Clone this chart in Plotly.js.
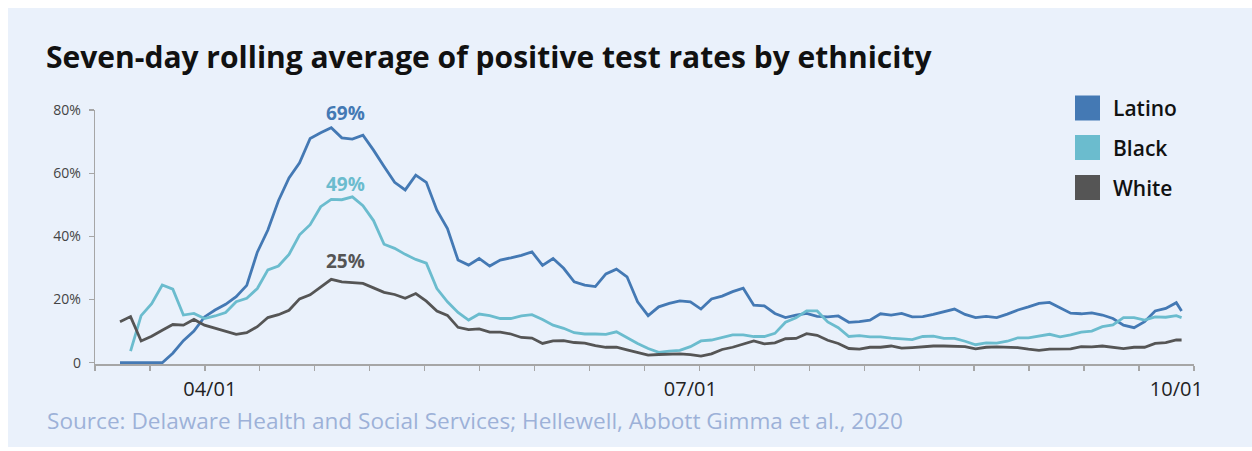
<!DOCTYPE html>
<html>
<head>
<meta charset="utf-8">
<script src="https://cdn.plot.ly/plotly-3.0.1.min.js"></script>
<style>
  html, body { margin: 0; padding: 0; background: #ffffff; }
  #chart { position: absolute; left: 8px; top: 8px; width: 1244px; height: 439px; }
</style>
</head>
<body>
<div id="chart"></div>
<script>
// ---- data ----
const dates = [
  '2020-03-15','2020-03-17','2020-03-19','2020-03-21','2020-03-23','2020-03-25','2020-03-27','2020-03-29','2020-03-31','2020-04-02',
  '2020-04-04','2020-04-06','2020-04-08','2020-04-10','2020-04-12','2020-04-14','2020-04-16','2020-04-18','2020-04-20','2020-04-22',
  '2020-04-24','2020-04-26','2020-04-28','2020-04-30','2020-05-02','2020-05-04','2020-05-06','2020-05-08','2020-05-10','2020-05-12',
  '2020-05-14','2020-05-16','2020-05-18','2020-05-20','2020-05-22','2020-05-24','2020-05-26','2020-05-28','2020-05-30','2020-06-01',
  '2020-06-03','2020-06-05','2020-06-07','2020-06-09','2020-06-11','2020-06-13','2020-06-15','2020-06-17','2020-06-19','2020-06-21',
  '2020-06-23','2020-06-25','2020-06-27','2020-06-29','2020-07-01','2020-07-03','2020-07-05','2020-07-07','2020-07-09','2020-07-11',
  '2020-07-13','2020-07-15','2020-07-17','2020-07-19','2020-07-21','2020-07-23','2020-07-25','2020-07-27','2020-07-29','2020-07-31',
  '2020-08-02','2020-08-04','2020-08-06','2020-08-08','2020-08-10','2020-08-12','2020-08-14','2020-08-16','2020-08-18','2020-08-20',
  '2020-08-22','2020-08-24','2020-08-26','2020-08-28','2020-08-30','2020-09-01','2020-09-03','2020-09-05','2020-09-07','2020-09-09',
  '2020-09-11','2020-09-13','2020-09-15','2020-09-17','2020-09-19','2020-09-21','2020-09-23','2020-09-25','2020-09-27','2020-09-29',
  '2020-10-01','2020-10-02'
];

const latino = [
  0,0,0,0,0,3,7,10,14.5,16.7,
  18.5,20.9,24.5,35,42,51.3,58.5,63.3,71,72.8,
  74.4,71.2,70.8,72,67.3,62.1,57.1,54.7,59.4,57.1,
  48.3,42.5,32.5,30.9,33,30.6,32.5,33.2,34,35.1,
  30.8,33,29.9,25.6,24.6,24.1,28.1,29.6,27.2,19.3,
  14.9,17.7,18.8,19.6,19.3,17,20.2,21.1,22.5,23.6,
  18.2,18,15.6,14.3,15.1,15.6,14.7,14.5,14.8,12.8,
  13,13.5,15.5,15.1,15.6,14.5,14.6,15.3,16.2,17,
  15.3,14.3,14.7,14.3,15.4,16.7,17.7,18.8,19.1,17.5,
  15.7,15.5,15.8,15.1,14,11.9,11.1,13,16.4,17.2,
  19,16.4
];

const black = [
  null,3.7,14.9,18.7,24.6,23.3,15.1,15.6,14,14.8,
  15.9,19.3,20.4,23.5,29.4,30.6,34.3,40.5,43.7,49.4,
  51.7,51.6,52.5,49.7,45,37.5,36.2,34.3,32.7,31.5,
  23.5,19.3,15.9,13.5,15.4,14.9,14,14,14.8,15.2,
  13.7,11.9,10.9,9.5,9.1,9.1,9,9.8,7.9,6.1,
  4.5,3.3,3.7,3.9,5.1,6.9,7.2,7.9,8.8,8.8,
  8.3,8.3,9.3,12.8,14.2,16.4,16.4,12.9,11.1,8.3,
  8.6,8.2,8.2,7.8,7.6,7.3,8.3,8.4,7.7,7.7,
  6.8,5.7,6.3,6.2,6.8,7.9,7.9,8.4,9,8.2,
  8.8,9.7,10,11.4,12,14.3,14.3,13.5,14.5,14.4,
  14.9,14.3
];

const white = [
  13,14.6,6.9,8.4,10.3,12.1,11.9,13.7,11.9,11,
  10,9,9.5,11.4,14.3,15.2,16.6,20.2,21.5,24,
  26.4,25.6,25.3,25.1,23.7,22.3,21.6,20.4,21.9,19.5,
  16.4,15,11.2,10.5,10.7,9.7,9.7,9.1,8,7.8,
  6.1,6.9,7,6.4,6.2,5.4,4.9,4.9,4.1,3.3,
  2.4,2.6,2.8,2.8,2.6,2.1,2.8,4.2,4.9,6,
  6.9,6,6.3,7.6,7.7,9.2,8.7,7.1,6.1,4.5,
  4.3,4.9,4.9,5.3,4.6,4.8,5.1,5.3,5.3,5.3,
  5.1,4.4,4.9,5,5,4.8,4.3,3.9,4.3,4.3,
  4.4,5.1,5,5.3,4.9,4.5,4.9,4.9,6.1,6.4,
  7.2,7.2
];

const seriesNames = ['Latino', 'Black', 'White'];
const peakLabels = ['69%', '49%', '25%'];
const xTickVals = ['2020-04-01', '2020-07-01', '2020-10-01'];
const xTickText = ['04/01', '07/01', '10/01'];
const yTickVals = [0, 20, 40, 60, 80];
const yTickText = ['0', '20%', '40%', '60%', '80%'];

// ---- styling ----
const colors = ['#4479B4', '#6BBCCE', '#555555'];
const labelColors = ['#4479B4', '#6BBCCE', '#555555'];
const panel = '#EAF1FB';
const axisGrey = '#A6A6A6';
const FONT = 'Open Sans, sans-serif';

// page-pixel helpers (plot area spans page x 95..1194, y 110..364)
const PL = 95, PR = 1194, PT = 110, PB = 364;
const PX = p => (p - PL) / (PR - PL);
const PY = p => (PB - p) / (PB - PT);

const DAY = 86400000;
const t0 = Date.parse('2020-03-15T00:00:00Z');
const pxPerDay = 5.282;
const rStart = t0 - (120 - PL) / pxPerDay * DAY;
const tickStep = ((PR - PL) / 20) / pxPerDay * DAY;
const rEnd = rStart + 20 * tickStep + 0.02 * DAY;

const ySeries = [latino, black, white];
const traces = ySeries.map((ys, i) => ({
  type: 'scatter', mode: 'lines', name: seriesNames[i],
  x: dates, y: ys, connectgaps: false,
  line: { color: colors[i], width: 2.8, shape: 'linear' },
  hoverinfo: 'skip', showlegend: false
}));

const shapes = [];
const annotations = [];
const legendCenters = [108, 147.5, 187.5];
seriesNames.forEach((n, i) => {
  const c = legendCenters[i];
  shapes.push({
    type: 'rect', xref: 'paper', yref: 'paper',
    x0: PX(1075), x1: PX(1100), y0: PY(c + 12.5), y1: PY(c - 12.5),
    fillcolor: colors[i], line: { width: 0 }
  });
  annotations.push({
    xref: 'paper', yref: 'paper', x: PX(1111), y: PY(c),
    xanchor: 'left', yanchor: 'middle', showarrow: false, text: n,
    font: { family: FONT, size: 21, weight: 600, color: '#111111' }
  });
});

const peakY = [113, 184, 261];
peakLabels.forEach((t, i) => {
  annotations.push({
    xref: 'paper', yref: 'paper', x: PX(345), y: PY(peakY[i]),
    xanchor: 'center', yanchor: 'middle', showarrow: false, text: t,
    font: { family: FONT, size: 19, weight: 700, color: labelColors[i] }
  });
});

annotations.push({
  xref: 'paper', yref: 'paper', x: PX(45), y: PY(420),
  xanchor: 'left', yanchor: 'middle', showarrow: false,
  text: 'Source: Delaware Health and Social Services; Hellewell, Abbott Gimma et al., 2020',
  font: { family: FONT, size: 22.6, color: '#9DB1D8' }
});

const layout = {
  width: 1244, height: 439,
  margin: { l: PL - 8, r: 1252 - PR, t: PT - 8, b: 447 - PB, pad: 0 },
  paper_bgcolor: panel, plot_bgcolor: panel,
  showlegend: false,
  title: {
    text: 'Seven-day rolling average of positive test rates by ethnicity',
    xref: 'container', yref: 'container',
    x: 38 / 1244, xanchor: 'left', y: 1 - 49 / 439, yanchor: 'middle',
    font: { family: FONT, size: 30, weight: 700, color: '#111111' }
  },
  xaxis: {
    type: 'date', range: [rStart, rEnd], fixedrange: true,
    showgrid: false, zeroline: false,
    showline: true, linecolor: axisGrey, linewidth: 1.5,
    tickmode: 'array', tickvals: xTickVals, ticktext: xTickText,
    ticks: '', ticklabelstandoff: 6,
    tickfont: { family: FONT, size: 20, color: '#222222' },
    minor: {
      tickmode: 'linear', tick0: rStart, dtick: tickStep,
      ticks: 'outside', ticklen: 5, tickwidth: 1.3, tickcolor: axisGrey, showgrid: false
    }
  },
  yaxis: {
    range: [-0.4, 80], fixedrange: true,
    showgrid: false, zeroline: false,
    showline: true, linecolor: axisGrey, linewidth: 1.3,
    tickmode: 'array', tickvals: yTickVals, ticktext: yTickText,
    ticks: 'outside', ticklen: 5, tickwidth: 1.3, tickcolor: axisGrey,
    ticklabelstandoff: 5,
    tickfont: { family: FONT, size: 14, color: '#444444' }
  },
  shapes: shapes,
  annotations: annotations
};

Plotly.newPlot('chart', traces, layout, { displayModeBar: false, staticPlot: true });
</script>
</body>
</html>
